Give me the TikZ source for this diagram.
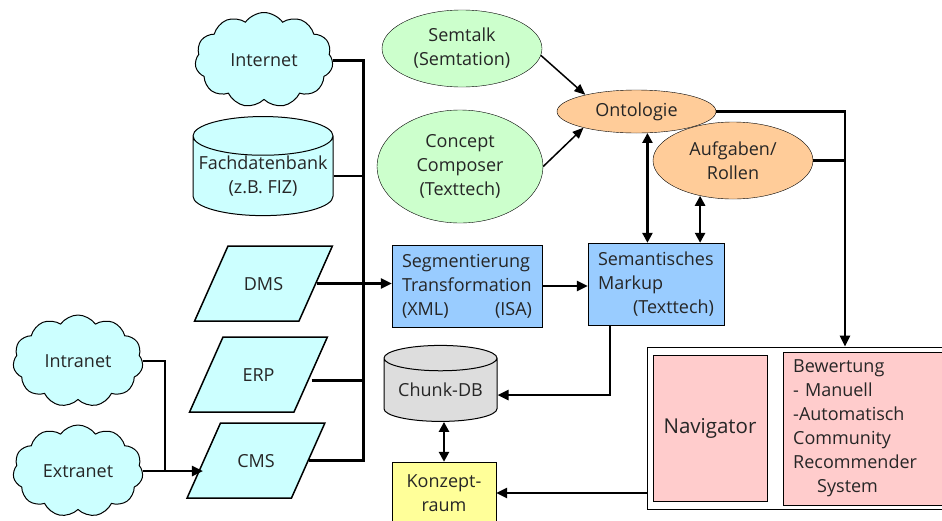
\documentclass[tikz,border=0pt]{standalone}
\usepackage{fontspec}
\setmainfont{Open Sans}
\usetikzlibrary{shapes.geometric,shapes.symbols,arrows.meta}

\begin{document}
\begin{tikzpicture}[x=1pt, y=-1pt, font=\fontsize{18}{24}\selectfont, text=black!85]
\definecolor{MyCyan}{RGB}{204,255,255}
\definecolor{MyGreen}{RGB}{204,255,204}
\definecolor{MyOrange}{RGB}{255,204,153}
\definecolor{MyBlue}{RGB}{153,204,255}
\definecolor{MyGray}{RGB}{221,221,221}
\definecolor{MyYellow}{RGB}{255,255,153}
\definecolor{MyPink}{RGB}{255,204,204}
\tikzset{
  src cloud/.style={cloud, cloud puffs=11, cloud puff arc=110, aspect=1.4, draw, line width=1pt, fill=MyCyan, inner sep=0pt},
  src db/.style={cylinder, shape border rotate=90, aspect=0.3, draw, line width=1pt, inner sep=0pt, align=center},
  src doc/.style={trapezium, trapezium left angle=66, trapezium right angle=114, draw, line width=1.5pt, fill=MyCyan,
    text width=71pt, align=center, text height=13pt, text depth=0pt, inner xsep=0pt, inner ysep=31pt},
  tool/.style={ellipse, draw, fill=MyGreen, inner sep=0pt, align=center},
  know/.style={ellipse, draw, fill=MyOrange, inner sep=0pt, align=center},
  proc/.style={rectangle, draw, fill=MyBlue, inner xsep=10pt, align=left},
  outbox/.style={rectangle, draw, fill=MyPink},
  conn/.style={line width=2.5pt},
  arr/.style={conn, -{Triangle[length=11pt,width=10pt]}},
  thinarr/.style={line width=1.5pt, -{Triangle[length=11pt,width=9pt]}},
  dbl/.style={conn, {Triangle[length=10pt,width=10pt]}-{Triangle[length=10pt,width=10pt]}},
}
\useasboundingbox (0,0) rectangle (942,520);
\clip (0,0) rectangle (942,520);

% sources
\node[src cloud, minimum width=138pt, minimum height=95pt] (internet) at (264,60) {Internet};
\node[src db, fill=MyCyan, minimum width=140pt, minimum height=95pt] (fachdb) at (263,176) {Fachdatenbank\\(z.B. FIZ)};
\node[src doc] (dms) at (263.5,283.5) {DMS};
\node[src doc] (erp) at (258.5,374.5) {ERP};
\node[src doc] (cms) at (256,460.5) {CMS};
\node[src cloud, minimum width=130pt, minimum height=92pt] (intranet) at (78,361) {Intranet};
\node[src cloud, minimum width=130pt, minimum height=92pt] (extranet) at (78,471) {Extranet};

% ontology
\node[tool, minimum width=160pt, minimum height=77pt] (semtalk) at (462,48.5) {Semtalk\\(Semtation)};
\node[tool, minimum width=166pt, minimum height=113pt] (composer) at (460,166.5) {Concept\\Composer\\(Texttech)};
\node[know, minimum width=159pt, minimum height=43pt] (ontologie) at (636.5,111.5) {Ontologie};
\node[know, minimum width=160pt, minimum height=77pt] (aufgaben) at (733,160.5) {Aufgaben/\\Rollen};

% processing
\node[proc, minimum height=82pt, text width=130pt] (segment) at (467,286) {Segmentierung\\Transformation\\(XML)\hfill(ISA)};
\node[proc, minimum height=82pt, text width=116pt] (markup) at (656,284) {Semantisches\\Markup\\\hfill(Texttech)};
\node[src db, fill=MyGray, minimum width=113pt, minimum height=76pt] (chunkdb) at (440.5,390) {Chunk-DB};
\node[draw, fill=MyYellow, minimum width=104pt, minimum height=62pt, align=center] (konzept) at (444,493) {Konzept-\\raum};

% portal
\node[draw, line width=1pt, minimum width=303pt, minimum height=162pt] (portal) at (798.5,428) {};
\node[outbox, minimum width=114pt, minimum height=146pt, font=\fontsize{20.5}{24}\selectfont] (navigator) at (710,428) {Navigator};
\node[outbox, anchor=north west, minimum width=165pt, minimum height=153pt, text width=145pt, inner xsep=10pt, align=left] (bewertung) at (783,352) {Bewertung\\- Manuell\\-Automatisch\\Community\\Recommender\\\hspace*{24pt}System};

\coordinate (bus) at (363,0);
\coordinate (rbus) at (845,0);
\coordinate (join) at (165,471);

% connectors
\draw[conn, line width=3pt] (internet.east) -- (internet.east -| bus) -- (bus |- cms.east) -- (cms.east);
\draw[conn] (fachdb.east) -- (fachdb.east -| bus);
\draw[conn] ([yshift=-6pt]erp.east) -- ([yshift=-6pt]erp.east -| bus);
\draw[arr] (dms.east) -- (dms.east -| segment.west);
\draw[conn] (intranet.east) -| (join);
\draw[arr] (extranet.east) -- (extranet.east -| cms.west);
\draw[thinarr] (semtalk.-5) -- (ontologie.162);
\draw[thinarr] (composer.east) -- (ontologie.197);
\draw[dbl] (ontologie.297) -- (ontologie.297 |- markup.north);
\draw[dbl] (aufgaben.227) -- (aufgaben.227 |- markup.north);
\draw[arr] (ontologie.east) -- (ontologie.east -| rbus) -- (rbus |- portal.north);
\draw[conn] (aufgaben.east) -- (aufgaben.east -| rbus);
\draw[arr] (segment.east) -- (segment.east -| markup.west);
\draw[arr] ([xshift=-46pt]markup.south) |- ([yshift=-5pt]chunkdb.east);
\draw[dbl] (konzept.north) -- (konzept.north |- chunkdb.south);
\draw[arr] (portal.west |- konzept.east) -- (konzept.east);
\end{tikzpicture}
\end{document}
